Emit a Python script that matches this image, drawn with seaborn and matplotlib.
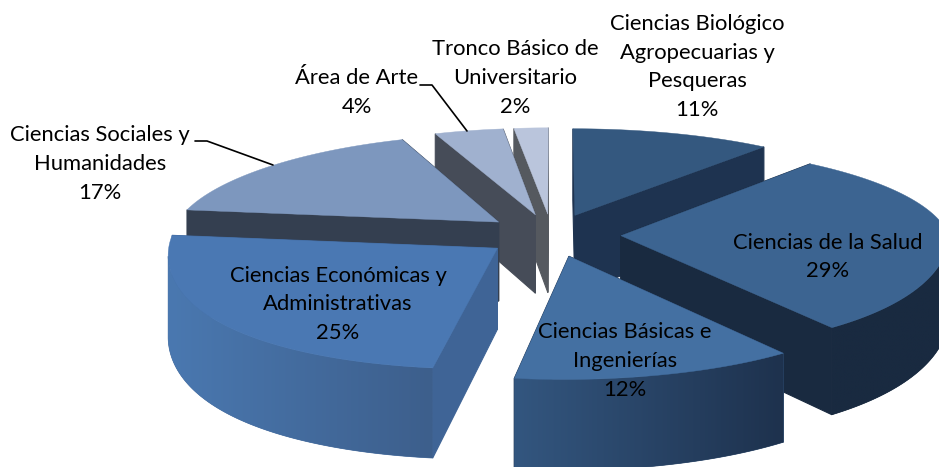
# exploded 3D pie, drawn by hand because matplotlib has no perspective pie

import matplotlib
matplotlib.use('Agg')
import matplotlib.pyplot as plt
import numpy as np
import seaborn as sns
from matplotlib.patches import Polygon
from matplotlib.colors import to_rgb

# data
categories = ['Ciencias Biológico\nAgropecuarias y\nPesqueras',
              'Ciencias de la Salud',
              'Ciencias Básicas e\nIngenierías',
              'Ciencias Económicas y\nAdministrativas',
              'Ciencias Sociales y\nHumanidades',
              'Área de Arte',
              'Tronco Básico de\nUniversitario']
values = [11, 29, 12, 25, 17, 4, 2]

# colours
top_colors = ['#34587F', '#3C6491', '#4470A2', '#4A78B3', '#7D97BE', '#A0B1CF', '#BAC5DC']
face_colors = ['#1E3350', '#192A40', '#1E324E', '#3F6496', '#343F50', '#464C58', '#55595F']
arc_ramps = [['#1E3350', '#1E3350'], ['#192A40', '#192A40'], ['#33567F', '#1E324E'],
             ['#4A78B0', '#3D5F8C'], ['#343F50', '#343F50'], ['#464C58', '#464C58'], ['#55595F', '#55595F']]
draw_order = [0, 6, 5, 4, 1, 3, 2]

# label centres in pixels
label_pos = [(697, 67), (828, 257), (625, 361), (338, 304.5), (100, 164), (357, 92.5), (515, 78)]

# projection settings
CX, CY = 552, 235
RX, RY = 328, 102
PY, PD = 0.125, 0.10
DEPTH = 80
EXPLODE = 0.21


def project(x, y, down=0.0):
    # front widens with y squared and drifts left, back right side shrinks less than back left
    s = np.where(y < 0, 1 + 0.13 * y ** 2, 1 / (1 + np.where(x < 0, 0.16, 0.10) * y))
    drift = np.where(s > 1, 50 * (s - 1), 0)
    sx = CX + x * RX * s - drift
    sy = CY - y * RY / (1 + PY * y) + down * DEPTH / (1 + PD * y)
    return np.column_stack([sx, sy])


sns.set_theme(style='white')
plt.rcParams['font.family'] = ['Lato', 'DejaVu Sans']

fig, ax = plt.subplots(figsize=(9.39, 4.67), dpi=100)
fig.subplots_adjust(0, 0, 1, 1)

angles = np.cumsum([0] + values) / sum(values) * 2 * np.pi

for z, i in enumerate(draw_order):
    a0, a1 = angles[i], angles[i + 1]
    mid = (a0 + a1) / 2
    ax0, ay0 = EXPLODE * np.sin(mid), EXPLODE * np.cos(mid)
    t = np.linspace(a0, a1, max(int(values[i] * 6), 12))
    px = ax0 + np.sin(t)
    py = ay0 + np.cos(t)
    base = (z + 1) * 3

    rim_top = project(px, py)
    rim_bot = project(px, py, 1)
    apex_top = project(np.array([ax0]), np.array([ay0]))
    apex_bot = project(np.array([ax0]), np.array([ay0]), 1)

    # radial walls
    for k in (0, -1):
        quad = np.vstack([apex_top, rim_top[k], rim_bot[k], apex_bot])
        ax.add_patch(Polygon(quad, closed=True, fc=face_colors[i], ec=face_colors[i], lw=0.8, zorder=base))

    # outer wall, only the part turned to the viewer, gradient clipped to its shape
    front = np.gradient(rim_top[:, 0]) < 0
    if front.sum() > 1:
        wall = np.vstack([rim_top[front], rim_bot[front][::-1]])
        x_lo, x_hi = wall[:, 0].min(), wall[:, 0].max()
        ramp = np.array([to_rgb(c) for c in sns.blend_palette(arc_ramps[i], n_colors=64)])[None, :, :]
        # solid wall underneath so the clipped edge shows no white seam
        ax.add_patch(Polygon(wall, closed=True, fc=ramp[0, 32], ec=ramp[0, 32], lw=0.5, zorder=base))
        im = ax.imshow(ramp, extent=(x_lo, x_hi, wall[:, 1].max(), wall[:, 1].min()),
                       aspect='auto', interpolation='bilinear', zorder=base + 1)
        clip = Polygon(wall, closed=True, transform=ax.transData, fc='none', ec='none')
        ax.add_patch(clip)
        im.set_clip_path(clip)

    # top
    ax.add_patch(Polygon(np.vstack([apex_top, rim_top]), closed=True, fc=top_colors[i], ec=top_colors[i], lw=0.3, zorder=base + 2))

for name, val, (lx, ly) in zip(categories, values, label_pos):
    ax.text(lx, ly, f'{name}\n{val}%', ha='center', va='center', fontsize=15.8,
            color='black', linespacing=1.55, zorder=50)

# leader lines
ax.plot([195, 207, 273], [141, 141, 165], color='black', lw=1.2, zorder=45)
ax.plot([420, 432, 467], [85, 85, 131], color='black', lw=1.2, zorder=45)

ax.set_xlim(0, 939)
ax.set_ylim(467, 0)
ax.axis('off')

plt.savefig('out.png', dpi=100, facecolor='white')
plt.close()
